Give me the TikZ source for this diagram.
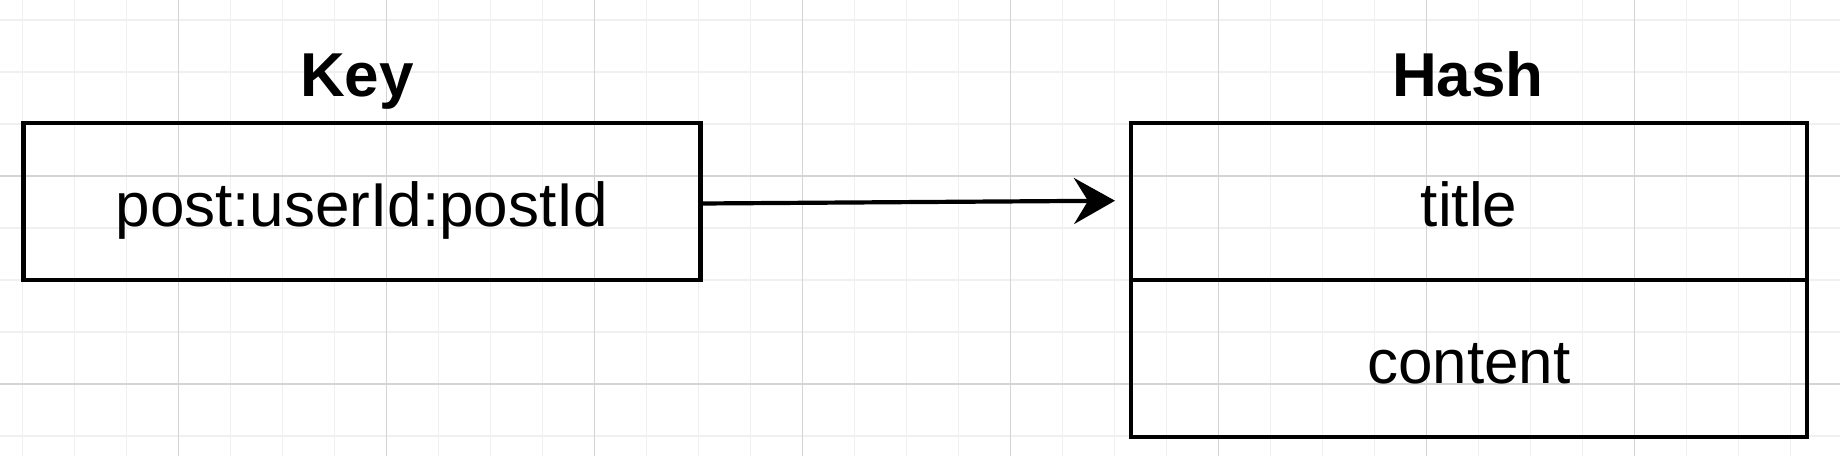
\documentclass[tikz,border=0pt]{standalone}
\usepackage{fontspec}
\setmainfont{Liberation Sans}
\usetikzlibrary{positioning,arrows.meta}
\tikzset{
  cell/.style={draw, rectangle, line width=2.1pt, minimum width=338pt, minimum height=78.5pt,
    inner sep=0pt, outer sep=0pt, font=\fontsize{31}{36}\selectfont, text height=32.8pt, text depth=7.6pt},
  caption/.style={anchor=base, font=\fontsize{31}{36}\selectfont\bfseries},
  minorline/.style={draw=black!6, line width=0.6pt},
  majorline/.style={draw=black!17, line width=0.7pt}
}
\begin{document}
\begin{tikzpicture}[x=0.5pt, y=-0.5pt]
\useasboundingbox (0,0) rectangle (1840,456);
\fill[white] (0,0) rectangle (1840,456);
% grid
\foreach \i in {0,...,35} \draw[minorline] (22.4+52*\i,0) -- (22.4+52*\i,456);
\foreach \i in {0,...,8} \draw[minorline] (0,20+52*\i) -- (1840,20+52*\i);
\foreach \j in {0,...,7} \draw[majorline] (178.4+208*\j,0) -- (178.4+208*\j,456);
\foreach \j in {0,1} \draw[majorline] (0,176+208*\j) -- (1840,176+208*\j);
% key
\node[caption] (keylabel) at (357,96) {Key};
\node[cell, minimum width=338.5pt] (key) at (362,201.5) {post:userId:postId};
% hash
\node[caption] (hashlabel) at (1468,96) {Hash};
\node[cell] (title) at (1469,201.5) {title};
\node[cell, below=0pt of title] (content) {content};
\coordinate (tip) at (1115,200.7);
\draw[-{Stealth[length=20.5pt, width=23pt, inset=7pt]}, line width=2.1pt] ([yshift=-1pt]key.east) -- (tip);
\end{tikzpicture}
\end{document}
